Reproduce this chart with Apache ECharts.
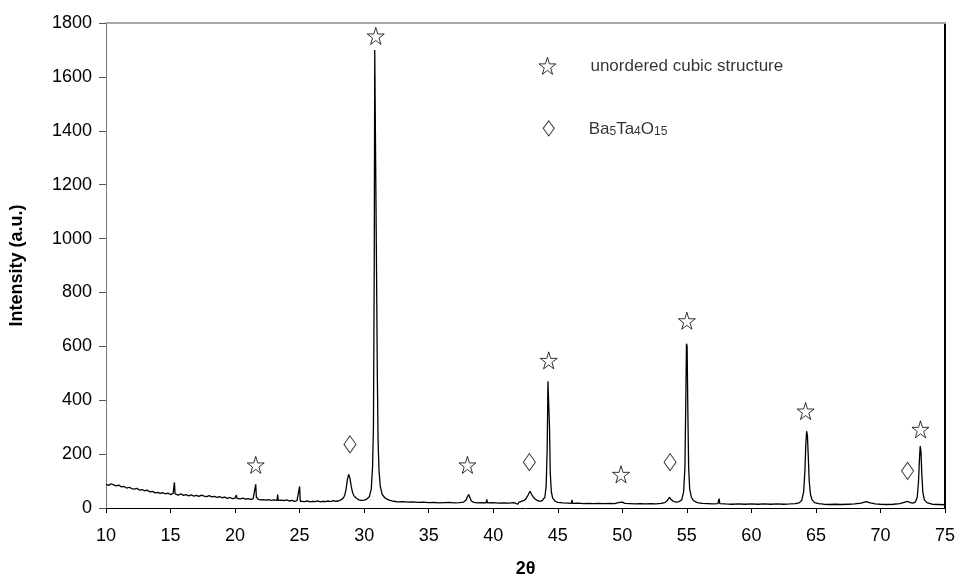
<!DOCTYPE html>
<html>
<head>
<meta charset="utf-8">
<script src="https://cdn.jsdelivr.net/npm/echarts@6/dist/echarts.min.js"></script>
<style>
  html, body { margin: 0; padding: 0; background: #fff; }
  #chart { width: 961px; height: 583px; }
</style>
</head>
<body>
<div id="chart"></div>
<script>
// XRD pattern: 2theta (deg) and intensity (a.u.)
var twoTheta = [
  10.0, 10.2, 10.4, 10.6, 10.8, 11.0, 11.2, 11.4, 11.6, 11.8,
  12.0, 12.2, 12.4, 12.6, 12.8, 13.0, 13.2, 13.4, 13.6, 13.8,
  14.0, 14.2, 14.4, 14.6, 14.8, 15.0, 15.2, 15.25, 15.3, 15.35,
  15.4, 15.6, 15.8, 16.0, 16.2, 16.4, 16.6, 16.8, 17.0, 17.2,
  17.4, 17.6, 17.8, 18.0, 18.2, 18.4, 18.6, 18.8, 19.0, 19.2,
  19.4, 19.6, 19.8, 20.0, 20.05, 20.1, 20.15, 20.2, 20.4, 20.6,
  20.8, 21.0, 21.2, 21.4, 21.55, 21.6, 21.65, 21.7, 21.8, 22.0,
  22.2, 22.4, 22.6, 22.8, 23.0, 23.25, 23.3, 23.35, 23.4, 23.6,
  23.8, 24.0, 24.2, 24.4, 24.6, 24.8, 24.95, 25.0, 25.05, 25.1,
  25.4, 25.6, 25.8, 26.0, 26.2, 26.4, 26.6, 26.8, 27.0, 27.2,
  27.4, 27.6, 27.8, 28.0, 28.2, 28.4, 28.5, 28.6, 28.7, 28.8,
  28.85, 28.9, 29.0, 29.1, 29.2, 29.4, 29.6, 29.8, 30.0, 30.2,
  30.4, 30.55, 30.65, 30.72, 30.78, 30.82, 30.92, 30.96, 31.02, 31.08,
  31.15, 31.25, 31.4, 31.6, 31.8, 32.0, 32.3, 32.6, 33.0, 33.4,
  33.8, 34.2, 34.6, 35.0, 35.4, 35.8, 36.2, 36.6, 37.0, 37.4,
  37.7, 37.9, 38.0, 38.1, 38.2, 38.3, 38.5, 38.8, 39.2, 39.45,
  39.5, 39.55, 39.6, 40.0, 40.4, 40.8, 41.2, 41.6, 41.9, 42.0,
  42.3, 42.5, 42.7, 42.85, 43.0, 43.2, 43.4, 43.6, 43.8, 44.0,
  44.1, 44.18, 44.24, 44.3, 44.36, 44.42, 44.5, 44.6, 44.8, 45.0,
  45.4, 45.8, 46.05, 46.1, 46.15, 46.2, 46.6, 47.0, 47.4, 47.8,
  48.2, 48.6, 49.0, 49.4, 49.7, 49.85, 50.0, 50.2, 50.6, 51.0,
  51.4, 51.8, 52.2, 52.6, 53.0, 53.3, 53.5, 53.65, 53.8, 54.0,
  54.2, 54.4, 54.6, 54.75, 54.85, 54.92, 54.97, 55.02, 55.08, 55.14,
  55.22, 55.35, 55.5, 55.8, 56.2, 56.6, 57.0, 57.4, 57.45, 57.5,
  57.55, 57.6, 58.0, 58.5, 59.0, 59.5, 60.0, 60.5, 61.0, 61.5,
  62.0, 62.5, 63.0, 63.4, 63.7, 63.9, 64.05, 64.15, 64.22, 64.28,
  64.34, 64.4, 64.48, 64.58, 64.7, 64.9, 65.2, 65.6, 66.0, 66.5,
  67.0, 67.5, 68.0, 68.5, 68.9, 69.2, 69.6, 70.0, 70.5, 71.0,
  71.5, 71.9, 72.1, 72.3, 72.5, 72.7, 72.85, 72.95, 73.02, 73.08,
  73.14, 73.2, 73.28, 73.4, 73.6, 74.0, 74.5, 75.0
];
var intensity = [
  88, 84, 90, 86, 82, 85, 78, 80, 74, 77,
  72, 70, 73, 66, 68, 64, 66, 60, 62, 56,
  58, 54, 57, 52, 55, 50, 54, 52, 95, 52,
  52, 48, 53, 47, 50, 45, 49, 44, 47, 43,
  48, 44, 42, 46, 41, 43, 39, 42, 38, 40,
  36, 39, 35, 37, 36, 48, 36, 36, 34, 37,
  33, 35, 32, 34, 36, 88, 40, 38, 32, 30,
  31, 29, 31, 28, 30, 28, 50, 28, 28, 29,
  27, 30, 26, 28, 25, 27, 25, 80, 25, 25,
  24, 26, 23, 25, 24, 26, 23, 25, 24, 26,
  24, 27, 25, 26, 30, 38, 48, 70, 105, 125,
  118, 110, 80, 58, 46, 36, 30, 28, 29, 33,
  42, 70, 150, 300, 880, 1700, 1700, 880, 500, 250,
  140, 80, 50, 38, 32, 28, 25, 23, 24, 22,
  23, 21, 22, 20, 21, 19, 20, 21, 19, 20,
  22, 30, 42, 50, 38, 26, 21, 19, 20, 19,
  32, 19, 19, 20, 18, 19, 18, 20, 14, 22,
  26, 32, 48, 62, 48, 35, 28, 25, 27, 40,
  80, 220, 470, 470, 300, 130, 60, 38, 25, 21,
  19, 18, 17, 30, 17, 17, 18, 16, 17, 16,
  17, 16, 17, 16, 20, 26, 22, 17, 16, 15,
  16, 15, 16, 15, 17, 20, 28, 40, 30, 24,
  22, 24, 30, 60, 150, 400, 610, 600, 350, 150,
  70, 40, 28, 20, 17, 16, 15, 16, 16, 35,
  16, 16, 15, 14, 15, 14, 15, 14, 15, 14,
  15, 14, 15, 16, 19, 28, 60, 140, 240, 285,
  270, 200, 100, 50, 30, 20, 16, 14, 13, 14,
  13, 14, 15, 18, 24, 19, 15, 14, 13, 14,
  16, 22, 25, 20, 18, 22, 40, 100, 180, 230,
  210, 130, 60, 30, 20, 14, 13, 12
];

// peak markers placed above the reflections
var starPeaks = [[21.6, 160], [30.9, 1752], [38.0, 160], [44.3, 548], [49.9, 125], [55.0, 695], [64.2, 360], [73.1, 292]];
var diamondPeaks = [[28.9, 236], [42.8, 170], [53.7, 170], [72.1, 138]];

// the hand drawn key in the upper middle
var keyStar = [44.2, 1641];
var keyDiamond = [44.3, 1409];

var starPath = 'path://M50,0 L61,35 L98,35 L68,57 L79,91 L50,70 L21,91 L32,57 L2,35 L39,35 Z';

var pattern = twoTheta.map(function (t, i) { return [t, intensity[i]]; });

var chart = echarts.init(document.getElementById('chart'));

var fontFamily = '"Liberation Sans", Arial, sans-serif';

chart.setOption({
  animation: false,
  backgroundColor: '#fff',
  textStyle: { fontFamily: fontFamily },
  grid: { left: 105, right: 16, top: 23, bottom: 72 },
  xAxis: [{
    type: 'value',
    min: 10,
    max: 75,
    interval: 5,
    name: '2θ',
    nameLocation: 'middle',
    nameGap: 52,
    nameTextStyle: { color: '#000', fontSize: 18, fontWeight: 'bold', fontFamily: fontFamily },
    axisLine: { show: true, onZero: false, lineStyle: { color: '#000', width: 1 } },
    axisTick: { show: true, length: 5, lineStyle: { color: '#000' } },
    axisLabel: { color: '#000', fontSize: 18, margin: 19, fontFamily: fontFamily },
    splitLine: { show: false }
  }, {
    type: 'value',
    position: 'top',
    min: 10,
    max: 75,
    axisLine: { show: true, onZero: false, lineStyle: { color: '#a8a8a8', width: 2 } },
    axisTick: { show: false },
    axisLabel: { show: false },
    splitLine: { show: false }
  }],
  yAxis: [{
    type: 'value',
    min: 0,
    max: 1800,
    interval: 200,
    name: 'Intensity (a.u.)',
    nameLocation: 'middle',
    nameGap: 80,
    nameTextStyle: { color: '#000', fontSize: 18, fontWeight: 'bold', fontFamily: fontFamily },
    axisLine: { show: true, lineStyle: { color: '#777', width: 1 } },
    axisTick: { show: true, length: 7, lineStyle: { color: '#555' } },
    axisLabel: {
      color: '#000', fontSize: 18, margin: 14, fontFamily: fontFamily,
      formatter: function (v) { return String(v); }
    },
    splitLine: { show: false }
  }, {
    type: 'value',
    position: 'right',
    min: 0,
    max: 1800,
    axisLine: { show: true, lineStyle: { color: '#000', width: 2 } },
    axisTick: { show: false },
    axisLabel: { show: false },
    splitLine: { show: false }
  }],
  series: [{
    name: 'pattern',
    type: 'line',
    data: pattern,
    showSymbol: false,
    symbol: 'none',
    lineStyle: { color: '#000', width: 1.3 },
    z: 2
  }, {
    name: 'unordered cubic structure',
    type: 'scatter',
    data: starPeaks,
    symbol: starPath,
    symbolSize: [17, 17],
    itemStyle: { color: '#fff', borderColor: '#000', borderWidth: 1 },
    z: 3
  }, {
    name: 'Ba5Ta4O15',
    type: 'scatter',
    data: diamondPeaks,
    symbol: 'diamond',
    symbolSize: [12, 17],
    itemStyle: { color: '#fff', borderColor: '#000', borderWidth: 1 },
    z: 3
  }, {
    name: 'key',
    type: 'scatter',
    data: [{
      value: keyStar,
      symbol: starPath,
      symbolSize: [17, 17],
      label: { formatter: 'unordered cubic structure' }
    }, {
      value: keyDiamond,
      symbol: 'diamond',
      symbolSize: [11, 15],
      label: { formatter: '{n|Ba}{s|5}{n|Ta}{s|4}{n|O}{s|15}' }
    }],
    itemStyle: { color: '#fff', borderColor: '#000', borderWidth: 1 },
    label: {
      show: true,
      position: 'right',
      distance: 34,
      color: '#000',
      fontSize: 17,
      fontFamily: fontFamily,
      rich: {
        n: { fontSize: 17, color: '#000', fontFamily: fontFamily, verticalAlign: 'bottom', lineHeight: 19 },
        s: { fontSize: 12, color: '#000', fontFamily: fontFamily, verticalAlign: 'bottom', lineHeight: 16 }
      }
    },
    z: 3
  }]
});
</script>
</body>
</html>
